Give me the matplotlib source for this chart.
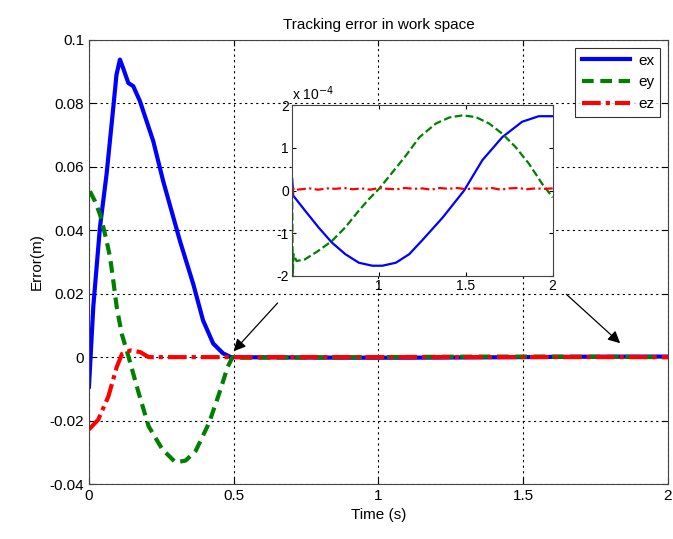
import matplotlib
matplotlib.use("Agg")
import matplotlib.pyplot as plt

plt.rcParams['font.family'] = ['Liberation Sans', 'DejaVu Sans']

# ---- main plot, transient part (t < 0.5 s) ----
t_ex = [0.0, 0.015, 0.038, 0.061, 0.084, 0.095, 0.107, 0.118, 0.136, 0.153, 0.176,
        0.222, 0.256, 0.314, 0.36, 0.394, 0.429, 0.463, 0.49]
ex = [-0.0093, 0.0160, 0.0410, 0.0578, 0.0787, 0.0890, 0.0938, 0.0911, 0.0864, 0.0854,
      0.0807, 0.0681, 0.0556, 0.0367, 0.0231, 0.0116, 0.0043, 0.0012, 0.0]

t_ey = [0.003, 0.021, 0.038, 0.05, 0.061, 0.073, 0.084, 0.096, 0.113, 0.13, 0.137,
        0.172, 0.206, 0.253, 0.299, 0.334, 0.369, 0.415, 0.45, 0.479, 0.496]
ey = [0.0523, 0.0491, 0.0450, 0.0408, 0.0366, 0.0314, 0.0241, 0.0157, 0.0074, 0.0022,
      0.0, -0.0114, -0.0218, -0.0290, -0.0332, -0.0326, -0.0295, -0.0207, -0.0114,
      -0.0031, 0.0]

t_ez = [0.0, 0.032, 0.067, 0.096, 0.114, 0.143, 0.177, 0.206, 0.25, 0.35, 0.45, 0.496]
ez = [-0.0228, -0.0197, -0.0124, -0.0031, 0.0010, 0.0021, 0.0016, 0.0, 0.0, 0.0, 0.0, 0.0]

# ---- steady part (0.5 s .. 2 s), values in units of 1e-4 m ----
ts_ex = [0.5, 0.506, 0.574, 0.651, 0.729, 0.806, 0.884, 0.961, 1.019, 1.097, 1.174,
         1.252, 1.367, 1.49, 1.595, 1.71, 1.824, 1.92, 2.0]
s_ex = [0.27, -0.12, -0.47, -0.86, -1.22, -1.49, -1.69, -1.76, -1.76, -1.69, -1.49,
        -1.15, -0.63, 0.0, 0.71, 1.25, 1.61, 1.74, 1.74]

ts_ey = [0.5, 0.503, 0.508, 0.525, 0.574, 0.651, 0.729, 0.806, 0.884, 0.942, 1.0,
         1.078, 1.155, 1.233, 1.328, 1.405, 1.481, 1.557, 1.634, 1.71, 1.786, 1.863,
         1.939, 2.0]
s_ey = [0.0, -2.0, -1.49, -1.65, -1.61, -1.41, -1.18, -0.86, -0.47, -0.2, 0.04, 0.43,
        0.82, 1.25, 1.57, 1.71, 1.76, 1.72, 1.57, 1.33, 1.02, 0.63, 0.16, -0.16]

ts_ez = [0.5, 0.503, 0.51, 0.55, 0.6, 0.65, 0.7, 0.75, 0.8, 0.85, 0.9, 0.95, 1.0, 1.05,
         1.1, 1.15, 1.2, 1.25, 1.3, 1.35, 1.4, 1.45, 1.5, 1.55, 1.6, 1.65, 1.7, 1.75,
         1.8, 1.85, 1.9, 1.95, 2.0]
s_ez = [-0.15, 0.10, 0.01, 0.03, 0.05, 0.02, 0.05, 0.04, 0.06, 0.03, 0.05, 0.02, 0.06,
        0.04, 0.03, 0.06, 0.04, 0.05, 0.02, 0.06, 0.04, 0.06, 0.03, 0.05, 0.04, 0.06,
        0.02, 0.05, 0.06, 0.03, 0.05, 0.04, 0.05]

labels = ['ex', 'ey', 'ez']
colors = ['#0000ff', '#008000', '#ff0000']

fig = plt.figure(figsize=(6.73, 5.39), dpi=100)
ax = fig.add_axes([0.1322, 0.102, 0.8603, 0.824])

scale = 1e-4
full_ex_t = t_ex + ts_ex
full_ex = ex + [v * scale for v in s_ex]
full_ey_t = t_ey + ts_ey
full_ey = ey + [v * scale for v in s_ey]
full_ez_t = t_ez + ts_ez
full_ez = ez + [v * scale for v in s_ez]

lw = 3.0
ax.plot(full_ex_t, full_ex, color=colors[0], lw=lw, label=labels[0])
ax.plot(full_ey_t, full_ey, color=colors[1], lw=lw, label=labels[1],
        linestyle=(0, (2.8, 1.6)))
ax.plot(full_ez_t, full_ez, color=colors[2], lw=lw, label=labels[2],
        linestyle=(0, (4.5, 1.2, 1.0, 1.2)))

ax.set_xlim(0, 2)
ax.set_ylim(-0.04, 0.1)
ax.set_xticks([0, 0.5, 1, 1.5, 2])
ax.set_xticklabels(['0', '0.5', '1', '1.5', '2'])
ax.set_yticks([-0.04, -0.02, 0, 0.02, 0.04, 0.06, 0.08, 0.1])
ax.set_yticklabels(['-0.04', '-0.02', '0', '0.02', '0.04', '0.06', '0.08', '0.1'])
ax.tick_params(direction='in', labelsize=11, length=4, top=True, right=True)
ax.grid(True, linestyle=(0, (2, 3)), color='black', linewidth=0.8)
for s in ax.spines.values():
    s.set_color('#444444')
ax.set_title('Tracking error in work space', fontsize=11, pad=8)
ax.set_xlabel('Time (s)', fontsize=11)
ax.set_ylabel('Error(m)', fontsize=11)

leg = ax.legend(loc='upper right', fontsize=11, frameon=True, fancybox=False,
                edgecolor='black', handlelength=3.2, borderaxespad=0.5,
                labelspacing=0.5, handletextpad=0.5)
leg.get_frame().set_linewidth(0.8)

# arrows
ax.annotate('', xy=(0.493, 0.0012), xytext=(0.658, 0.0177),
            arrowprops=dict(arrowstyle='-|>', color='black', lw=0.9,
                            mutation_scale=18))
ax.annotate('', xy=(1.842, 0.0038), xytext=(1.642, 0.0204),
            arrowprops=dict(arrowstyle='-|>', color='black', lw=0.9,
                            mutation_scale=18))

# inset
ins = fig.add_axes([0.4334, 0.488, 0.3878, 0.317])
ins.plot(ts_ex, s_ex, color=colors[0], lw=1.6)
ins.plot(ts_ey, s_ey, color=colors[1], lw=1.6, linestyle=(0, (3.5, 1.5)))
ins.plot(ts_ez, s_ez, color=colors[2], lw=1.6, linestyle=(0, (4.0, 1.5, 1.0, 1.5)))
ins.set_xlim(0.497, 2)
ins.set_ylim(-2, 2)
ins.set_xticks([1, 1.5, 2])
ins.set_xticklabels(['1', '1.5', '2'])
ins.set_yticks([-2, -1, 0, 1, 2])
ins.set_yticklabels(['-2', '-1', '0', '1', '2'])
ins.tick_params(direction='in', labelsize=10, length=3, top=True, right=True, pad=2)
for s in ins.spines.values():
    s.set_color('#444444')
ins.text(0.0, 1.01, r'x 10$^{-4}$', transform=ins.transAxes, fontsize=10,
         ha='left', va='bottom')

fig.savefig('out.png', dpi=100)
